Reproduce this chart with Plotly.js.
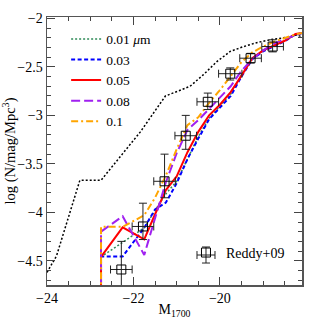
<!DOCTYPE html>
<html>
<head>
<meta charset="utf-8">
<script src="https://cdn.plot.ly/plotly-3.0.1.min.js"></script>
<style>html,body{margin:0;padding:0;background:#fff;}#chart{width:319px;height:319px;}</style>
</head>
<body>
<div id="chart"></div>
<script>
// Black dotted curve (no legend entry)
const blackX = [-24.0, -23.78, -23.24, -22.75, -21.84, -21.26, -20.80, -20.69, -20.38, -20.07, -19.76, -19.45, -19.15, -18.84, -18.53, -18.22, -18.1];
const blackY = [-4.62, -4.45, -3.67, -3.67, -3.17, -2.80, -2.72, -2.70, -2.58, -2.445, -2.34, -2.29, -2.25, -2.22, -2.20, -2.17, -2.19];

// Model curves share magnitude grid
const modelX = [-22.75, -22.75, -22.25, -21.75, -21.5, -21.25, -21.0, -20.75, -20.5, -20.25, -20.0, -19.75, -19.5, -19.25, -19.0, -18.75, -18.5, -18.25, -18.1];
const greenY  = [-5.0, -4.46, -4.31, -4.16, -3.98, -3.81, -3.68, -3.45, -3.22, -3.03, -2.90, -2.78, -2.58, -2.42, -2.33, -2.28, -2.23, -2.165, -2.155];
const blueY   = [-5.0, -4.455, -4.455, -4.16, -3.97, -3.90, -3.70, -3.45, -3.24, -3.04, -2.92, -2.80, -2.60, -2.42, -2.34, -2.285, -2.235, -2.165, -2.155];
const redY    = [-5.0, -4.46, -4.155, -4.28, -4.02, -3.77, -3.63, -3.38, -3.17, -3.00, -2.89, -2.76, -2.59, -2.41, -2.33, -2.28, -2.23, -2.16, -2.15];
const purpleY = [-5.0, -4.20, -4.04, -4.44, -4.06, -3.69, -3.39, -3.15, -3.05, -2.93, -2.82, -2.70, -2.54, -2.42, -2.33, -2.26, -2.21, -2.17, -2.15];
const orangeY = [-5.0, -4.15, -4.15, -4.03, -3.85, -3.62, -3.35, -3.10, -3.02, -2.87, -2.74, -2.60, -2.45, -2.35, -2.29, -2.24, -2.20, -2.165, -2.15];

const seriesNames = ['0.01 <i>\u03bc</i>m', '0.03', '0.05', '0.08', '0.1'];

// Reddy+09 data
const obsX = [-22.28, -21.78, -21.28, -20.79, -20.28, -19.76, -19.29, -18.78];
const obsY = [-4.59, -4.146, -3.68, -3.21, -2.86, -2.57, -2.41, -2.29];
const obsErrPlus  = [0.29, 0.24, 0.28, 0.21, 0.09, 0.06, 0.05, 0.07];
const obsErrMinus = [0.35, 0.135, 0.17, 0.14, 0.08, 0.065, 0.05, 0.055];
const obsErrX = [0.25, 0.25, 0.25, 0.25, 0.25, 0.27, 0.25, 0.25];

const serif = 'Liberation Serif, DejaVu Serif, serif';

const traces = [
  {x: blackX, y: blackY, mode: 'lines', showlegend: false, line: {color: '#000', width: 1.5, dash: '2px,2px'}},
  {x: modelX, y: greenY, mode: 'lines', name: seriesNames[0], line: {color: '#2e8b57', width: 1.5, dash: '2px,2px'}},
  {x: modelX, y: blueY, mode: 'lines', name: seriesNames[1], line: {color: '#0000ff', width: 2, dash: '4px,2.5px'}},
  {x: modelX, y: redY, mode: 'lines', name: seriesNames[2], line: {color: '#ff0000', width: 2}},
  {x: modelX, y: purpleY, mode: 'lines', name: seriesNames[3], line: {color: '#a020f0', width: 2, dash: '9px,4px'}},
  {x: modelX, y: orangeY, mode: 'lines', name: seriesNames[4], line: {color: '#ffa500', width: 2, dash: '7px,3px,2px,3px'}},
  {x: obsX, y: obsY, mode: 'markers', name: 'Reddy+09', legend: 'legend2',
   marker: {symbol: 'square-open', size: 9, color: '#000', line: {width: 1, color: '#000'}},
   error_y: {type: 'data', symmetric: false, array: obsErrPlus, arrayminus: obsErrMinus, width: 4, thickness: 1, color: '#222'},
   error_x: {type: 'data', array: obsErrX, width: 4, thickness: 1, color: '#222'}}
];

const axisCommon = {
  showline: true, mirror: 'allticks', linecolor: '#555', linewidth: 1.5,
  ticks: 'inside', ticklen: 8, tickwidth: 1, tickcolor: '#444',
  showgrid: false, zeroline: false,
  tickfont: {family: serif, size: 14, color: '#000'}
};

// error-bar glyph beside the Reddy+09 legend symbol (paper coordinates)
const gx = 0.6235, gy = 0.1119, hx = 0.0353, hy = 0.0299, cx = 0.0157, cy = 0.0149;
const glyph = {type: 'line', xref: 'paper', yref: 'paper', line: {color: '#222', width: 1}};
const shapes = [
  Object.assign({x0: gx - hx, x1: gx + hx, y0: gy, y1: gy}, glyph),
  Object.assign({x0: gx - hx, x1: gx - hx, y0: gy - cy, y1: gy + cy}, glyph),
  Object.assign({x0: gx + hx, x1: gx + hx, y0: gy - cy, y1: gy + cy}, glyph),
  Object.assign({x0: gx, x1: gx, y0: gy - hy, y1: gy + hy}, glyph),
  Object.assign({x0: gx - cx, x1: gx + cx, y0: gy - hy, y1: gy - hy}, glyph),
  Object.assign({x0: gx - cx, x1: gx + cx, y0: gy + hy, y1: gy + hy}, glyph)
];

const layout = {
  width: 319, height: 319,
  margin: {l: 47, r: 17, t: 17, b: 34},
  paper_bgcolor: '#fff', plot_bgcolor: '#fff',
  font: {family: serif, color: '#000'},
  xaxis: Object.assign({}, axisCommon, {
    range: [-24, -18.1], tick0: -24, dtick: 2,
    minor: {dtick: 0.5, ticklen: 4, ticks: 'inside', tickcolor: '#444'},
    title: {text: 'M<sub>1700</sub>', font: {family: serif, size: 14}, standoff: 0}
  }),
  yaxis: Object.assign({}, axisCommon, {
    range: [-4.75, -1.985], tick0: -2, dtick: 0.5,
    minor: {dtick: 0.1, ticklen: 4, ticks: 'inside', tickcolor: '#444'},
    title: {text: 'log (N/mag/Mpc<sup>3</sup>)', font: {family: serif, size: 14.5}, standoff: 4}
  }),
  shapes: shapes,
  showlegend: true,
  legend: {x: 0.075, y: 0.975, xanchor: 'left', yanchor: 'top', bgcolor: 'rgba(0,0,0,0)',
           font: {family: serif, size: 13.5}, tracegroupgap: 0, itemwidth: 30},
  legend2: {x: 0.545, y: 0.06, xanchor: 'left', yanchor: 'bottom', bgcolor: 'rgba(0,0,0,0)',
            font: {family: serif, size: 14}}
};

Plotly.newPlot('chart', traces, layout, {displayModeBar: false, staticPlot: true});
</script>
</body>
</html>
